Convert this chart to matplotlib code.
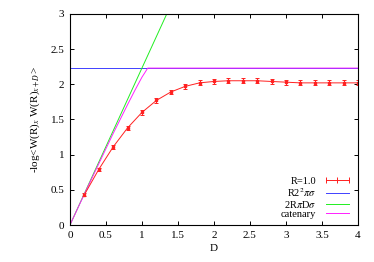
import numpy as np
import matplotlib.pyplot as plt
from matplotlib.lines import Line2D

plt.rcParams['font.family'] = ['Liberation Serif', 'DejaVu Serif']
plt.rcParams['mathtext.fontset'] = 'stix'

# measured data, R = 1.0
D = [0.2, 0.4, 0.6, 0.8, 1.0, 1.2, 1.4, 1.6, 1.8, 2.0,
     2.2, 2.4, 2.6, 2.8, 3.0, 3.2, 3.4, 3.6, 3.8, 4.0]
W = [0.43, 0.79, 1.11, 1.38, 1.60, 1.77, 1.89, 1.97, 2.02, 2.04,
     2.05, 2.05, 2.05, 2.04, 2.03, 2.02, 2.02, 2.02, 2.02, 2.02]
W_err = [0.02, 0.02, 0.025, 0.03, 0.03, 0.03, 0.03, 0.035, 0.035, 0.035,
         0.035, 0.035, 0.035, 0.035, 0.035, 0.035, 0.035, 0.035, 0.035, 0.035]

# models
disk_val = 2.23
cyl_D = [0.0, 1.35]
cyl_val = [0.0, 2.23 * 1.35]
cat_D = [0.0, 0.2, 0.4, 0.6, 0.8, 0.9, 1.0, 1.05, 1.08, 4.0]
cat_val = [0.0, 0.44, 0.87, 1.30, 1.71, 1.91, 2.10, 2.18, 2.23, 2.23]

fig = plt.figure(figsize=(3.74, 2.62), dpi=100)
ax = fig.add_axes([0.187, 0.141, 0.770, 0.806])

ax.errorbar(D, W, yerr=W_err, color='#ff2020', lw=0.7, marker='s', ms=1.8,
            capsize=1.5, elinewidth=0.7, capthick=0.7)
ax.axhline(disk_val, color='#4040ff', lw=0.7)
ax.plot(cyl_D, cyl_val, color='#20ee20', lw=0.7)
ax.plot(cat_D, cat_val, color='#ff20ff', lw=0.7)

ax.set_xlim(0, 4)
ax.set_ylim(0, 3)
ax.set_xticks(np.arange(0, 4.01, 0.5))
ax.set_xticklabels(['0', '0.5', '1', '1.5', '2', '2.5', '3', '3.5', '4'])
ax.set_yticks(np.arange(0, 3.01, 0.5))
ax.set_yticklabels(['0', '0.5', '1', '1.5', '2', '2.5', '3'])
ax.tick_params(direction='in', top=True, right=True, labelsize=8,
               length=3, width=0.7, pad=4)
for s in ax.spines.values():
    s.set_linewidth(0.8)

ax.set_xlabel('D', fontsize=8, labelpad=3)
ax.set_ylabel(r'-log<W(R)$_x$ W(R)$_{x+D}$>', fontsize=8, labelpad=6)

# legend handles, gnuplot style
handles = [
    Line2D([], [], color='#ff2020', lw=0.7, marker='|', ms=4, mew=0.7),
    Line2D([], [], color='#4040ff', lw=0.7),
    Line2D([], [], color='#20ee20', lw=0.7),
    Line2D([], [], color='#ff20ff', lw=0.7),
]
labels = ['R=1.0', r'R2$^2$$\pi\sigma$', r'2R$\pi$D$\sigma$', 'catenary']
ax.legend(handles, labels, loc='lower right', fontsize=7.5, frameon=False,
          markerfirst=False, numpoints=3, handlelength=2.8,
          labelspacing=0.0, borderaxespad=0.2, handletextpad=0.6)

fig.savefig('out.png', dpi=100)
